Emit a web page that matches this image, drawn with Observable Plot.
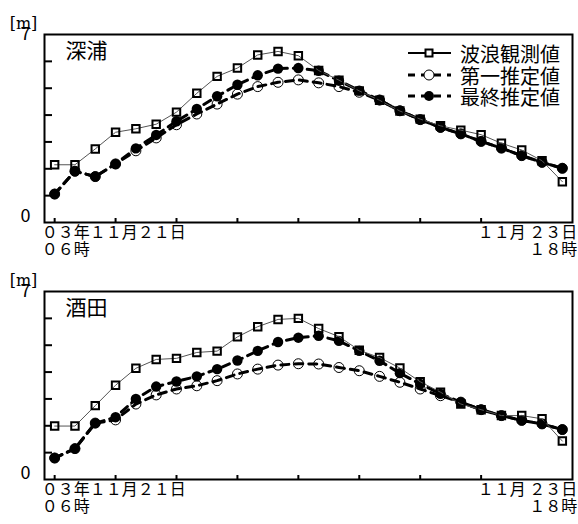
<!DOCTYPE html>
<html>
<head>
<meta charset="utf-8">
<script src="https://cdn.jsdelivr.net/npm/d3@7"></script>
<script src="https://cdn.jsdelivr.net/npm/@observablehq/plot@0.6"></script>
<style>
  html, body { margin: 0; padding: 0; background: #fff; }
  #wrap { position: relative; width: 578px; }
  #wrap svg { display: block; }
  .legend { position: absolute; left: 0; top: 0; width: 578px; height: 120px; pointer-events: none; }
</style>
</head>
<body>
<div id="wrap"></div>
<script>
// ---- data ----
const steps = d3.range(26); // observation index, 06時 21日 → 18時 23日
const tickSteps = [0, 3, 6, 9, 12, 15, 18, 21];
const stationNames = ["深浦", "酒田"];
const seriesNames = ["波浪観測値", "第一推定値", "最終推定値"];
const startLabel = "０３年１１月２１日\n０６時";
const endLabel = "１１月 ２３日\n１８時";

const fukauraObs   = [2.15,2.15,2.74,3.36,3.49,3.66,4.11,4.81,5.44,5.75,6.24,6.37,6.21,5.66,5.30,4.90,4.55,4.15,3.85,3.60,3.44,3.27,2.95,2.70,2.30,1.52];
const fukauraFirst = [1.06,1.91,1.71,2.18,2.67,3.15,3.64,4.04,4.41,4.78,5.06,5.22,5.31,5.20,5.06,4.85,4.56,4.16,3.83,3.54,3.30,3.02,2.77,2.49,2.24,2.02];
const fukauraFinal = [1.06,1.91,1.71,2.18,2.76,3.26,3.77,4.23,4.70,5.13,5.48,5.73,5.75,5.65,5.28,4.91,4.56,4.16,3.83,3.54,3.30,3.02,2.77,2.49,2.24,2.02];

const sakataObs   = [1.99,1.99,2.75,3.51,4.14,4.47,4.51,4.73,4.78,5.31,5.69,5.96,6.00,5.62,5.32,4.81,4.54,4.15,3.64,3.25,2.81,2.60,2.38,2.38,2.26,1.43];
const sakataFirst = [0.80,1.15,2.10,2.22,2.81,3.15,3.37,3.49,3.68,3.93,4.11,4.26,4.31,4.30,4.17,4.05,3.84,3.62,3.37,3.12,2.88,2.60,2.38,2.20,2.07,1.86];
const sakataFinal = [0.80,1.15,2.10,2.32,3.00,3.46,3.65,3.84,4.11,4.43,4.79,5.12,5.28,5.35,5.16,4.79,4.42,3.96,3.56,3.19,2.88,2.60,2.38,2.20,2.07,1.86];

const yTicksInner = [1, 2, 3, 4, 5, 6];

const FONT = "'Noto Sans CJK JP', 'Noto Sans', sans-serif";

function panel(name, obs, first, fin, height) {
  const toRows = arr => steps.map(i => ({i, v: arr[i]}));
  const o = toRows(obs), f1 = toRows(first), f2 = toRows(fin);
  return Plot.plot({
    width: 578,
    height,
    marginLeft: 44,
    marginRight: 6,
    marginTop: 34,
    marginBottom: height - 34 - 188,
    style: {fontFamily: FONT, fontSize: "16px", background: "white", color: "black", overflow: "visible"},
    x: {domain: [-0.5, 25.5], axis: null, label: null},
    y: {domain: [0, 7], axis: null, label: null},
    marks: [
      // inward ticks
      Plot.axisY({ticks: yTicksInner, tickSize: 8, dx: 8, tickFormat: () => "", label: null, strokeWidth: 2}),
      Plot.axisX({ticks: tickSteps, tickSize: 4, dy: -4, tickFormat: () => "", label: null, strokeWidth: 2}),
      // y end labels
      Plot.axisY({ticks: [7], tickSize: 0, tickPadding: 14, fontSize: 18, dy: 0, tickFormat: d => String(d), label: null}),
      Plot.axisY({ticks: [0], tickSize: 0, tickPadding: 14, fontSize: 18, dy: -6, tickFormat: d => String(d), label: null}),
      Plot.text(["[m]"], {frameAnchor: "top-left", dx: -21, dy: -17, text: d => d, textAnchor: "middle", fontSize: 16, fontFamily: "'DejaVu Serif', serif"}),
      // x end labels
      Plot.text([{i: 0, t: startLabel}], {x: "i", text: "t", frameAnchor: "bottom", lineAnchor: "top", textAnchor: "start", dx: -13, dy: 3, lineHeight: 1.06, fontSize: 16}),
      Plot.text([{i: 25, t: endLabel}], {x: "i", text: "t", frameAnchor: "bottom", lineAnchor: "top", textAnchor: "end", dx: 15, dy: 3, lineHeight: 1.06, fontSize: 16}),
      // station name
      Plot.text([name], {frameAnchor: "top-left", text: d => d, dx: 21, dy: 9, lineAnchor: "top", fontSize: 21}),
      // first estimate
      Plot.line(f1, {x: "i", y: "v", stroke: "black", strokeWidth: 3, strokeDasharray: "8,6"}),
      Plot.dot(f1, {x: "i", y: "v", r: 5, stroke: "black", strokeWidth: 1, fill: "none"}),
      // final estimate
      Plot.line(f2, {x: "i", y: "v", stroke: "black", strokeWidth: 3, strokeDasharray: "8,6"}),
      Plot.dot(f2, {x: "i", y: "v", r: 5.2, fill: "black", stroke: "none"}),
      // observed
      Plot.line(o, {x: "i", y: "v", stroke: "#555", strokeWidth: 1}),
      Plot.dot(o, {x: "i", y: "v", symbol: "square", r: 4.2, stroke: "black", strokeWidth: 2, fill: "none"}),
      Plot.frame({stroke: "black", strokeWidth: 2})
    ]
  });
}

const wrap = document.getElementById("wrap");
wrap.appendChild(panel(stationNames[0], fukauraObs, fukauraFirst, fukauraFinal, 257));
wrap.appendChild(panel(stationNames[1], sakataObs, sakataFirst, sakataFinal, 267));

// legend (overlay on first panel, top right)
const ns = "http://www.w3.org/2000/svg";
const leg = document.createElementNS(ns, "svg");
leg.setAttribute("class", "legend");
leg.setAttribute("width", 578);
leg.setAttribute("height", 120);
const rowsY = [53, 75, 96];
seriesNames.forEach((s, k) => {
  const y = rowsY[k];
  const line = document.createElementNS(ns, "line");
  line.setAttribute("x1", 408); line.setAttribute("x2", 451);
  line.setAttribute("y1", y); line.setAttribute("y2", y);
  line.setAttribute("stroke", "black");
  if (k === 0) { line.setAttribute("stroke-width", 2); }
  else { line.setAttribute("stroke-width", 3); line.setAttribute("stroke-dasharray", "7,6"); }
  leg.appendChild(line);
  let m;
  if (k === 0) {
    m = document.createElementNS(ns, "rect");
    m.setAttribute("x", 425.5); m.setAttribute("y", y - 3.5);
    m.setAttribute("width", 7); m.setAttribute("height", 7);
    m.setAttribute("fill", "white"); m.setAttribute("stroke", "black"); m.setAttribute("stroke-width", 2);
  } else {
    m = document.createElementNS(ns, "circle");
    m.setAttribute("cx", 429); m.setAttribute("cy", y); m.setAttribute("r", 5);
    if (k === 1) { m.setAttribute("fill", "white"); m.setAttribute("stroke", "black"); m.setAttribute("stroke-width", 1); }
    else { m.setAttribute("fill", "black"); }
  }
  leg.appendChild(m);
  const t = document.createElementNS(ns, "text");
  t.setAttribute("x", 460); t.setAttribute("y", y);
  t.setAttribute("dominant-baseline", "central");
  t.setAttribute("font-size", 20);
  t.setAttribute("font-family", FONT);
  t.textContent = s;
  leg.appendChild(t);
});
wrap.appendChild(leg);
</script>
</body>
</html>
